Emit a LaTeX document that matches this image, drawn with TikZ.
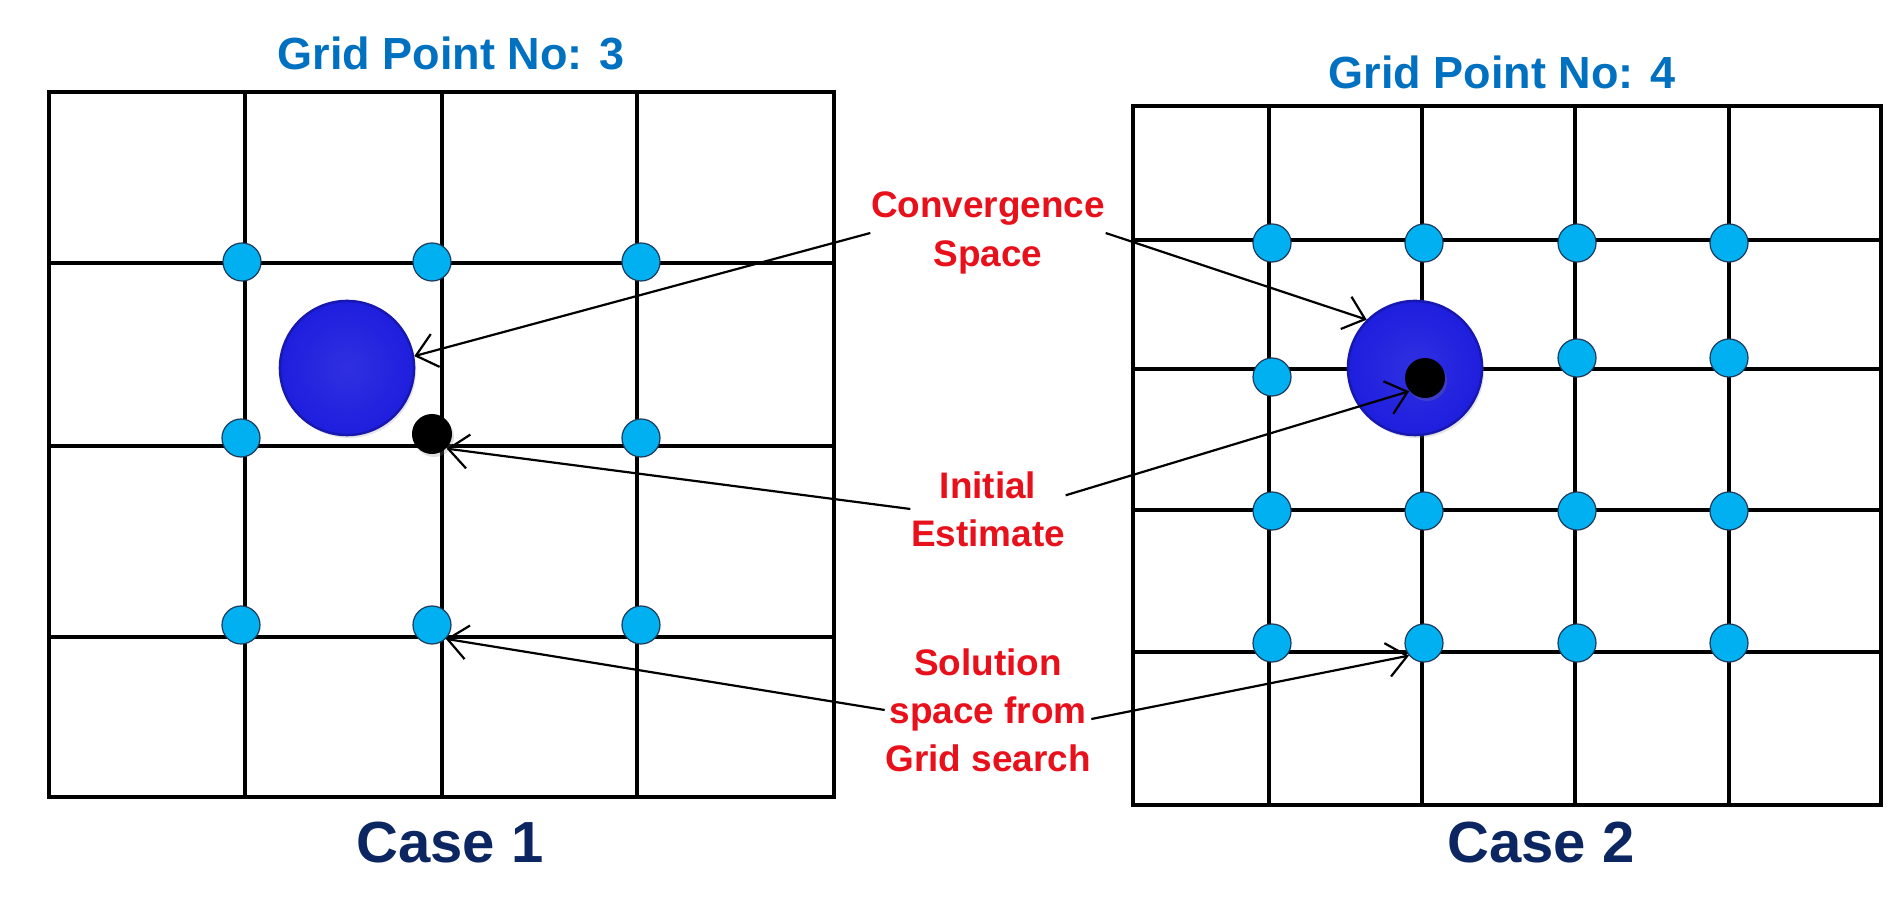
\documentclass[tikz,border=0pt]{standalone}
\usepackage{fontspec}
\setmainfont{Liberation Sans}
\usetikzlibrary{arrows.meta,shadows}
\definecolor{GridTitle}{HTML}{0070C0}
\definecolor{CaseNavy}{HTML}{0B2660}
\definecolor{LabelRed}{HTML}{E8101A}
\definecolor{SolCyan}{HTML}{00B0F0}
\definecolor{SolEdge}{HTML}{1F3A5A}
\definecolor{BallBlue}{HTML}{1E1EDE}
\definecolor{BallRim}{HTML}{1818B0}

\begin{document}
\begin{tikzpicture}[x=0.01cm, y=-0.01cm,
    gridline/.style={line width=0.035cm, black},
    gridframe/.style={line width=0.045cm, black},
    solpt/.style={circle, fill=SolCyan, draw=SolEdge, line width=0.012cm, minimum size=0.38cm, inner sep=0pt},
    estpt/.style={circle, fill=black, minimum size=0.40cm, inner sep=0pt, drop shadow={opacity=0.25, shadow xshift=0.02cm, shadow yshift=-0.03cm}},
    convball/.style={circle, inner color=BallBlue!92!white, outer color=BallBlue, draw=BallRim, line width=0.025cm, minimum size=1.34cm, inner sep=0pt, drop shadow={opacity=0.2, shadow xshift=0.02cm, shadow yshift=-0.03cm}},
    gridtitle/.style={font=\bfseries\fontsize{12.8}{15}\selectfont, text=GridTitle},
    casetitle/.style={font=\bfseries\fontsize{16.5}{19}\selectfont, text=CaseNavy},
    redlabel/.style={font=\bfseries\fontsize{10.5}{13.7}\selectfont, text=LabelRed, align=center, inner sep=0pt},
    pointer/.style={-{Straight Barb[length=0.2cm, width=0.34cm]}, line width=0.022cm, black}]
  \fill[white] (0,0) rectangle (1897,901);
  \useasboundingbox (0,0) rectangle (1897,901);

  % Case 1 grid
  \foreach \x in {245,442,637} \draw[gridline] (\x,92) -- (\x,797);
  \foreach \y in {263,446,637} \draw[gridline] (49,\y) -- (834,\y);
  \draw[gridframe] (49,92) rectangle (834,797);

  % Case 2 grid
  \foreach \x in {1269,1422,1575,1729} \draw[gridline] (\x,106) -- (\x,805);
  \foreach \y in {240,369,510,652} \draw[gridline] (1133,\y) -- (1881,\y);
  \draw[gridframe] (1133,106) rectangle (1881,805);

  % grid search points
  \foreach \x/\y [count=\i] in {242/262,432/262,641/262,241/438,641/438,241/625,432/625,641/625}
    \node[solpt] (ls\i) at (\x,\y) {};
  \foreach \x/\y [count=\i] in {1272/243,1424/243,1577/243,1729/243,1272/377,1577/358,1729/358,
      1272/511,1424/511,1577/511,1729/511,1272/643,1424/643,1577/643,1729/643}
    \node[solpt] (rs\i) at (\x,\y) {};

  % convergence space and initial estimate
  \node[convball] (convL) at (347,368) {};
  \node[estpt] (estL) at (432,434) {};
  \node[convball] (convR) at (1415,368) {};
  \node[estpt] (estR) at (1425,378) {};

  \node[gridtitle] (titleL) at (451,53) {Grid Point No: 3};
  \node[gridtitle] (titleR) at (1502,72) {Grid Point No: 4};
  \node[casetitle] (caseL) at (450,843) {Case 1};
  \node[casetitle] (caseR) at (1541,843) {Case 2};

  \node[redlabel] (conv) at (988,233) {Convergence\\Space};
  \node[redlabel] (init) at (988,509) {Initial\\Estimate};
  \node[redlabel] (sol) at (988,710) {Solution\\space from\\Grid search};

  \draw[pointer] (conv.west) -- (convL.10);
  \draw[pointer] (conv.east) -- (convR.135);
  \draw[pointer] (init.west) -- (estL.-45);
  \draw[pointer] (init.10) -- (estR.220);
  \draw[pointer] (sol.west) -- (ls7.-45);
  \draw[pointer] (sol.-5) -- (rs13.220);
\end{tikzpicture}
\end{document}
